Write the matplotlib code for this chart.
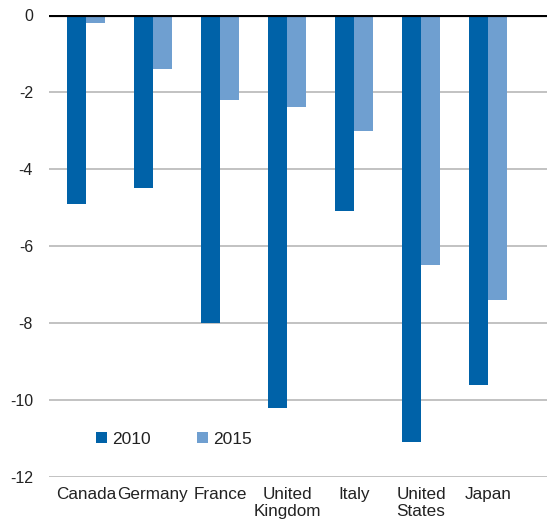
import matplotlib
matplotlib.use("Agg")
import matplotlib.pyplot as plt
import numpy as np

plt.rcParams['font.family'] = ['Liberation Sans', 'DejaVu Sans']

categories = ["Canada", "Germany", "France", "United\nKingdom", "Italy", "United\nStates", "Japan"]
series_2010 = [-4.9, -4.5, -8.0, -10.2, -5.1, -11.1, -9.6]
series_2015 = [-0.2, -1.4, -2.2, -2.4, -3.0, -6.5, -7.4]
yticks = [0, -2, -4, -6, -8, -10, -12]

fig = plt.figure(figsize=(5.47, 5.25), dpi=100)
ax = fig.add_axes([0.0896, 0.0914, 0.9104, 0.8800])

x = np.arange(len(categories))
w = 0.285
ax.bar(x - w/2, series_2010, width=w, color="#0062a8", label="2010", zorder=3)
ax.bar(x + w/2, series_2015, width=w, color="#6f9fd0", label="2015", zorder=3)

ax.set_ylim(-12, 0)
ax.set_xlim(-0.55, 6.88)
ax.set_yticks(yticks)
ax.set_yticklabels([str(t) for t in yticks])
ax.set_xticks(x)
ax.set_xticklabels(categories, linespacing=1.2)
ax.tick_params(axis='both', length=0, colors="#222222")
ax.tick_params(axis='y', pad=11.5, labelsize=11.5)
ax.tick_params(axis='x', pad=7, labelsize=12.3)
ax.yaxis.grid(True, color="#bdbdbd", linewidth=1.3, zorder=0)
ax.set_axisbelow(True)
for s in ax.spines.values():
    s.set_visible(False)
ax.axhline(0, color="black", linewidth=3, zorder=4)

leg = ax.legend(loc="lower left", bbox_to_anchor=(0.094, 0.066), ncol=2, frameon=False,
                fontsize=12.5, handlelength=0.63, handleheight=0.63, handletextpad=0.3,
                columnspacing=2.65, borderpad=0, borderaxespad=0)
for t in leg.get_texts():
    t.set_color("#222222")

fig.savefig("out.png", dpi=100)
